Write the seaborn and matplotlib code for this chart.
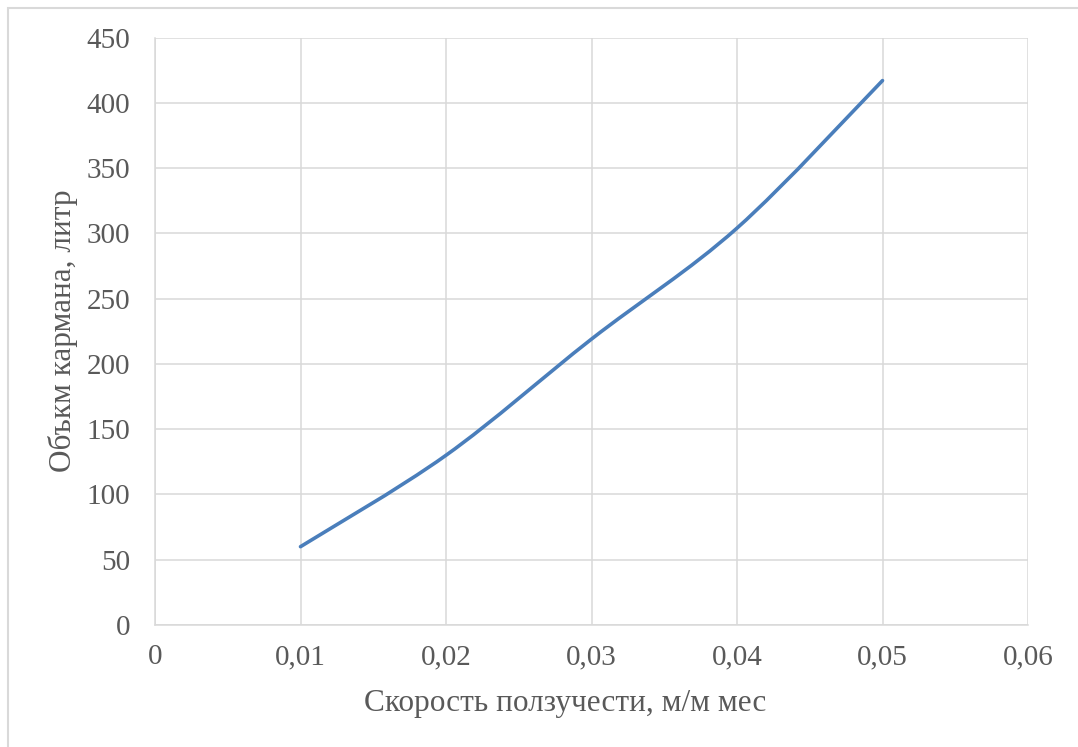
import matplotlib
matplotlib.use("Agg")
import matplotlib.pyplot as plt
from matplotlib.patches import Rectangle, PathPatch
from matplotlib.path import Path
import seaborn as sns
import pandas as pd

# Pocket volume versus creep rate
creep_rate = [0.01, 0.02, 0.03, 0.04, 0.05]
pocket_volume = [60, 130, 219, 304, 417]

x_ticks = [0, 0.01, 0.02, 0.03, 0.04, 0.05, 0.06]
x_tick_labels = ["0", "0,01", "0,02", "0,03", "0,04", "0,05", "0,06"]
y_ticks = [0, 50, 100, 150, 200, 250, 300, 350, 400, 450]
y_tick_labels = [str(v) for v in y_ticks]

x_label = "Скорость ползучести, м/м мес"
y_label = "Объкм кармана, литр"

sns.set_theme(style="whitegrid")
plt.rcParams["font.family"] = ["Liberation Serif", "DejaVu Serif"]

text_color = "#595959"
grid_color = "#d9d9d9"
line_color = "#4A7EBB"


def smoothed_path(pts):
    """Cubic Bezier through the points (spreadsheet-style smoothed line)."""
    n = len(pts)
    verts = [tuple(pts[0])]
    codes = [Path.MOVETO]
    for i in range(n - 1):
        p0 = pts[max(i - 1, 0)]
        p1 = pts[i]
        p2 = pts[i + 1]
        p3 = pts[min(i + 2, n - 1)]
        c1 = p1 + (p2 - p0) / 6.0
        c2 = p2 - (p3 - p1) / 6.0
        verts += [tuple(c1), tuple(c2), tuple(p2)]
        codes += [Path.CURVE4] * 3
    return Path(verts, codes)


fig = plt.figure(figsize=(10.78, 7.47), dpi=100)
fig.patch.set_facecolor("white")
ax = fig.add_axes([155 / 1078, 1 - 625 / 747, (1028 - 155) / 1078, (625 - 37.5) / 747])

df = pd.DataFrame({"rate": creep_rate, "volume": pocket_volume})
sns.lineplot(data=df, x="rate", y="volume", ax=ax, color=line_color, linewidth=2.6)

# replace the polyline with a smoothed curve through the same points
line = ax.lines[0]
ax.add_patch(PathPatch(smoothed_path(line.get_xydata()), transform=ax.transData,
                       fill=False, edgecolor=line_color, linewidth=2.6,
                       capstyle="round", joinstyle="round", zorder=3))
line.set_visible(False)

ax.set_xlim(0, 0.06)
ax.set_ylim(0, 450)
ax.set_xticks(x_ticks)
ax.set_xticklabels(x_tick_labels)
ax.set_yticks(y_ticks)
ax.set_yticklabels(y_tick_labels)

ax.grid(True, color=grid_color, linewidth=1.1)
ax.set_axisbelow(True)
for side, spine in ax.spines.items():
    spine.set_visible(side in ("left", "bottom"))
    spine.set_color(grid_color)
    spine.set_linewidth(1.1)

ax.tick_params(axis="both", length=0, labelsize=21, labelcolor=text_color)
ax.tick_params(axis="y", pad=18)
ax.tick_params(axis="x", pad=14)

ax.set_xlabel("")
ax.set_ylabel("")
fig.text(565 / 1078, 1 - 703 / 747, x_label, ha="center", va="center",
         fontsize=22.5, color=text_color)
fig.text(63 / 1078, 1 - 331 / 747, y_label, ha="center", va="center",
         rotation=90, fontsize=22.5, color=text_color)

# chart-area frame
fig.patches.append(Rectangle((8 / 1078, -0.1), 1.2, 1 - 8 / 747 + 0.1,
                             transform=fig.transFigure, fill=False,
                             edgecolor=grid_color, linewidth=1.5))

fig.savefig("out.png", dpi=100, facecolor="white")
